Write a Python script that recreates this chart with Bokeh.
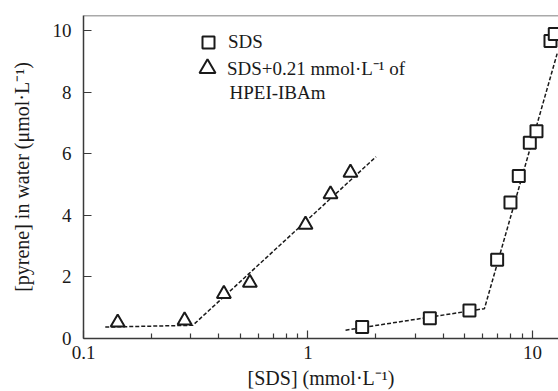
from bokeh.plotting import figure
from bokeh.models import Range1d, FixedTicker, Legend, LegendItem, Span, Label
from bokeh.embed import file_html
from bokeh.resources import INLINE

# --- data ---
tri_x = [0.142, 0.282, 0.422, 0.551, 0.975, 1.26, 1.546]
tri_y = [0.52, 0.59, 1.45, 1.81, 3.70, 4.69, 5.39]
tri_fit_x = [0.125, 0.307, 2.01]
tri_fit_y = [0.37, 0.43, 5.91]

sq_x = [1.743, 3.49, 5.24, 6.96, 7.98, 8.69, 9.73, 10.42, 12.03, 12.57]
sq_y = [0.37, 0.66, 0.91, 2.56, 4.42, 5.28, 6.36, 6.74, 9.67, 9.90]
sq_fit_x = [1.47, 6.11, 12.88]
sq_fit_y = [0.27, 0.97, 9.26]

x_ticks = [0.1, 1, 10]
x_tick_labels = ["0.1", "1", "10"]
x_minor = [0.2, 0.3, 0.4, 0.5, 0.6, 0.7, 0.8, 0.9, 2, 3, 4, 5, 6, 7, 8, 9]
y_ticks = [0, 2, 4, 6, 8, 10]

label_sds = "SDS"
label_mix_1 = "SDS+0.21 mmol\u00b7L\u207b\u00b9 of"
label_mix_2 = "HPEI-IBAm"
x_label = "[SDS] (mmol\u00b7L\u207b\u00b9)"
y_label = "[pyrene] in water (\u03bcmol\u00b7L\u207b\u00b9)"

FONT = "Liberation Serif"
INK = "#1a1a1a"
AX = "#3a3a3a"

p = figure(width=558, height=391, x_axis_type="log",
           x_range=Range1d(0.1, 13.06), y_range=Range1d(0, 10.5),
           output_backend="svg", toolbar_location=None,
           min_border_left=83, min_border_right=0,
           min_border_top=15, min_border_bottom=52)

p.outline_line_color = None
p.grid.visible = False
p.background_fill_color = "white"

# top border line
p.add_layout(Span(location=10.5, dimension="width", line_color="#555555", line_width=1.5))

# fits
p.line(tri_fit_x, tri_fit_y, line_color=INK, line_width=1.5, line_dash="4 2")
p.line(sq_fit_x, sq_fit_y, line_color=INK, line_width=1.5, line_dash="4 2")

r_sq = p.scatter(sq_x, sq_y, marker="square", size=12, line_color=INK,
                 line_width=2, fill_color="white")
r_tri = p.scatter(tri_x, tri_y, marker="triangle", size=14, line_color=INK,
                  line_width=2, fill_color="white")


def make_legend(item, box, loc, standoff):
    lg = Legend(items=[item], location=loc, orientation="vertical")
    lg.background_fill_alpha = 0
    lg.border_line_color = None
    lg.label_text_font = FONT
    lg.label_text_font_size = "19px"
    lg.label_text_color = INK
    lg.glyph_width = box
    lg.glyph_height = box
    lg.label_standoff = standoff
    lg.spacing = 0
    lg.padding = 0
    lg.margin = 0
    return lg


p.add_layout(make_legend(LegendItem(label=label_sds, renderers=[r_sq]), 30, (110, 281), 5))
p.add_layout(make_legend(LegendItem(label=label_mix_1, renderers=[r_tri]), 40, (104, 250), 0))
p.add_layout(Label(x=0.447, y=8.0, text=label_mix_2, text_font=FONT,
                   text_font_size="19px", text_color=INK, text_baseline="alphabetic"))

# x axis
xa = p.xaxis[0]
xa.ticker = FixedTicker(ticks=x_ticks, minor_ticks=x_minor)
xa.major_label_overrides = dict(zip(x_ticks, x_tick_labels))
xa.axis_label = x_label

ya = p.yaxis[0]
ya.ticker = FixedTicker(ticks=y_ticks)
ya.axis_label = y_label

for ax in (xa, ya):
    ax.axis_line_color = AX
    ax.axis_line_width = 1.5
    ax.major_tick_line_color = AX
    ax.minor_tick_line_color = AX
    ax.major_tick_line_width = 1.2
    ax.minor_tick_line_width = 1.2
    ax.major_tick_in = 8
    ax.major_tick_out = 0
    ax.minor_tick_in = 5
    ax.minor_tick_out = 0
    ax.major_label_text_font = FONT
    ax.major_label_text_font_size = "19px"
    ax.major_label_text_color = INK
    ax.axis_label_text_font = FONT
    ax.axis_label_text_font_size = "20px"
    ax.axis_label_text_font_style = "normal"
    ax.axis_label_text_color = INK

ya.minor_tick_line_color = None
xa.major_label_standoff = 7
xa.axis_label_standoff = 5
ya.major_label_standoff = 12
ya.axis_label_standoff = 17

open("out.html", "w").write(file_html(p, INLINE))
